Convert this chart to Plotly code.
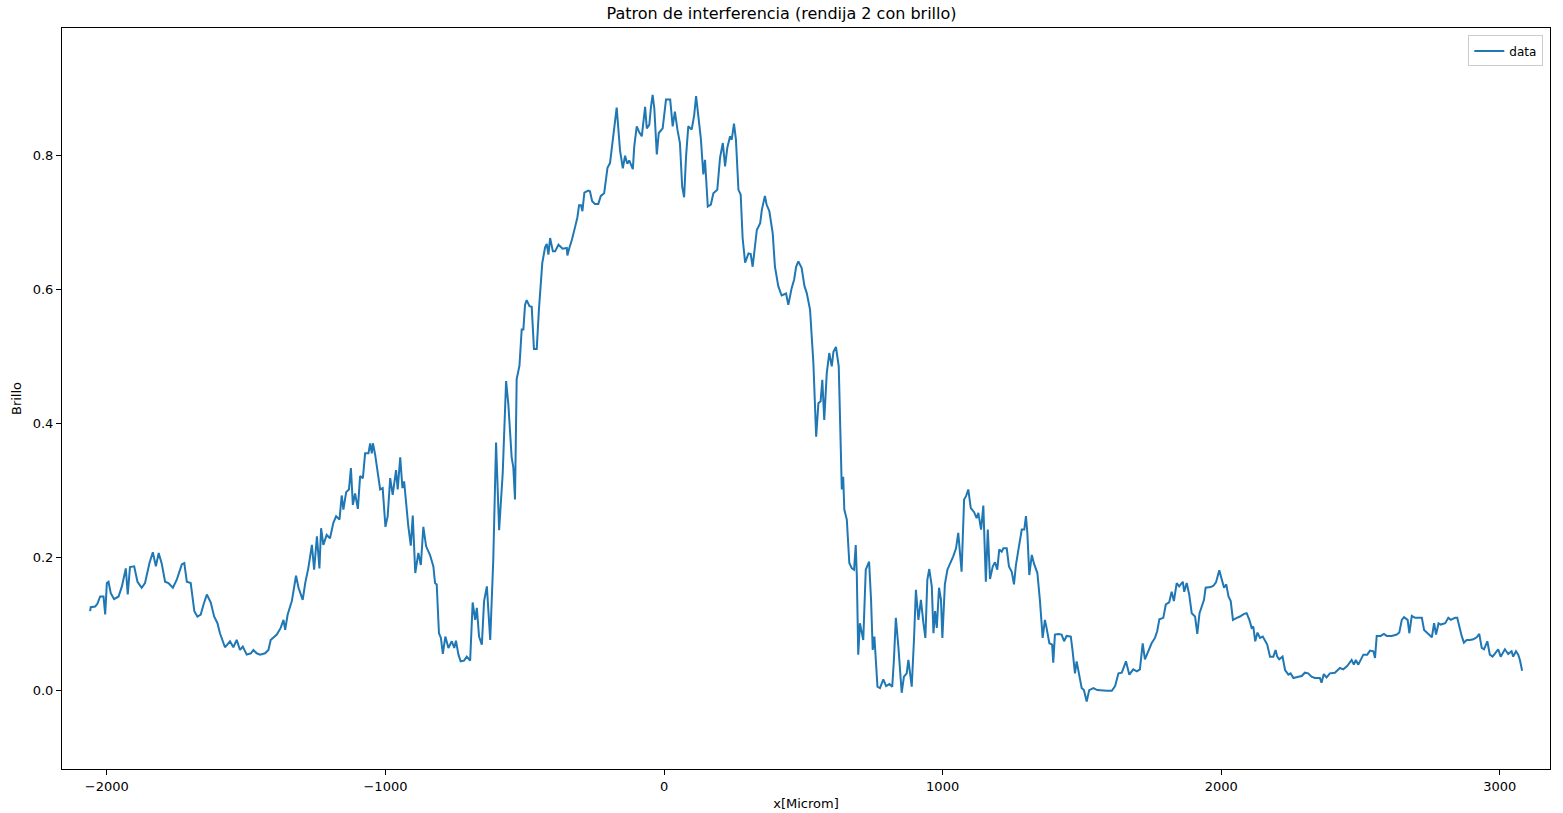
import plotly.graph_objects as go

x_um = [
    -2060, -2058, -2042, -2034, -2024, -2012, -2006, -2000, -1994, -1986, -1974, -1958,
    -1946, -1932, -1925, -1917, -1902, -1890, -1875, -1863, -1847, -1835, -1824, -1814,
    -1803, -1791, -1779, -1763, -1749, -1740, -1731, -1722, -1713, -1699, -1686, -1675,
    -1663, -1653, -1641, -1627, -1615, -1603, -1594, -1576, -1558, -1546, -1534, -1522,
    -1512, -1498, -1483, -1474, -1462, -1450, -1432, -1420, -1412, -1390, -1376, -1366,
    -1360, -1351, -1336, -1321, -1312, -1297, -1288, -1277, -1264, -1256, -1246, -1237,
    -1231, -1223, -1211, -1199, -1187, -1177, -1165,
    -1157, -1151, -1141, -1131, -1124, -1117, -1109, -1099, -1091, -1081, -1073, -1061,
    -1055, -1049, -1045, -1037, -1029, -1019, -1010, -1000, -992, -983, -974, -962,
    -956, -947, -939, -933, -918, -909, -902, -893, -882, -873, -864, -854,
    -840, -828, -822, -816, -808, -801, -794, -785, -774, -762, -753, -747,
    -738, -730, -718, -708, -696, -687, -678, -672, -664, -654, -646, -636,
    -624, -613,
    -603, -592, -579, -567, -559, -547, -541, -535, -529, -519, -511, -505,
    -499, -493, -483, -475, -467, -457, -449, -441, -437, -427, -421, -415,
    -409, -399, -391, -379, -364, -349, -347, -340, -331, -319, -311, -305,
    -298, -293, -286, -272, -266, -258, -248, -236, -227, -215, -203, -194,
    -182, -170, -158, -148, -140, -132, -125, -112, -107, -98, -89, -80,
    -74, -68, -62, -53, -47, -41, -35, -26, -19, -5,
    7, 22, 31, 39, 48, 57, 65, 72, 79, 87, 99, 108,
    115, 123, 132, 141, 147, 157, 168, 177, 191, 201, 211, 219,
    227, 237, 243, 251, 258, 267, 275, 282, 291, 303, 311, 318,
    327, 333, 345, 351, 362, 368, 378, 390, 398, 410, 422, 438,
    446, 458, 467, 474, 482, 494, 504, 512, 524, 536, 546, 554,
    562, 568, 575, 584, 593, 602, 608, 617, 627, 632,
    638, 643, 647, 656, 665, 674, 682, 688, 692, 697, 703, 715,
    724, 736, 743, 749, 755, 766, 775, 787, 797, 809, 819, 825,
    832, 841, 847, 853, 861, 871, 877, 883, 889, 897, 904, 913,
    922, 931, 938, 945, 952, 961, 967, 973, 979, 987, 994, 999,
    1008, 1017, 1029, 1038, 1048, 1056, 1068, 1077, 1084, 1092, 1101, 1113,
    1122, 1128, 1138, 1146, 1155, 1162, 1170, 1180, 1188, 1196, 1203, 1212,
    1218, 1230, 1238, 1248, 1256, 1263, 1272, 1284, 1293, 1299, 1304, 1311,
    1320, 1328, 1340, 1349, 1359, 1367, 1373, 1383,
    1393, 1397, 1403, 1415, 1427, 1436, 1445, 1460, 1466, 1475, 1481, 1491,
    1499, 1507, 1517, 1526, 1541, 1555, 1571, 1589, 1607, 1619, 1631, 1643,
    1658, 1670, 1684, 1697, 1708, 1718, 1726, 1738, 1750, 1762, 1770, 1778,
    1792, 1801, 1813, 1822, 1830, 1840, 1849, 1862, 1867, 1876, 1885, 1894,
    1906, 1914, 1922, 1930, 1938, 1944, 1954, 1962, 1972, 1981, 1993, 2002,
    2010, 2018, 2026, 2034, 2042, 2056, 2067, 2082, 2091, 2101, 2109, 2115,
    2122, 2130, 2139, 2149, 2157, 2165, 2175, 2187, 2195, 2201, 2208,
    2220, 2229, 2241, 2249, 2259, 2277, 2289, 2300, 2312, 2324, 2336, 2354,
    2360, 2368, 2378, 2390, 2408, 2426, 2438, 2452, 2468, 2476, 2483, 2492,
    2500, 2510, 2524, 2534, 2546, 2552, 2558, 2572, 2584, 2594, 2612, 2630,
    2639, 2648, 2656, 2669, 2675, 2684, 2696, 2720, 2728, 2744, 2756, 2764,
    2771, 2780, 2788, 2804, 2815, 2824, 2839, 2847, 2857, 2863, 2871, 2881,
    2893, 2905, 2917, 2926, 2935, 2943, 2955, 2964, 2974, 2982, 2994, 3003,
    3018, 3030, 3042, 3048, 3058, 3066, 3072, 3080,
]

brillo = [
    0.119, 0.125, 0.126, 0.130, 0.141, 0.141, 0.114, 0.161, 0.163, 0.146, 0.137, 0.141,
    0.156, 0.183, 0.144, 0.185, 0.186, 0.163, 0.154, 0.161, 0.191, 0.207, 0.186, 0.206,
    0.190, 0.163, 0.161, 0.154, 0.166, 0.178, 0.189, 0.191, 0.163, 0.161, 0.119, 0.111,
    0.114, 0.129, 0.144, 0.132, 0.111, 0.101, 0.086, 0.065, 0.074, 0.065, 0.076, 0.061,
    0.066, 0.054, 0.056, 0.061, 0.056, 0.054, 0.056, 0.061, 0.076, 0.084, 0.094, 0.106,
    0.091, 0.114, 0.134, 0.172, 0.154, 0.136, 0.161, 0.183, 0.218, 0.181, 0.231, 0.183,
    0.243, 0.218, 0.233, 0.228, 0.251, 0.261, 0.256,
    0.292, 0.271, 0.297, 0.301, 0.333, 0.278, 0.295, 0.272, 0.321, 0.318, 0.355, 0.355,
    0.370, 0.355, 0.370, 0.353, 0.330, 0.301, 0.303, 0.245, 0.261, 0.318, 0.293, 0.330,
    0.301, 0.349, 0.303, 0.313, 0.246, 0.217, 0.262, 0.176, 0.206, 0.188, 0.245, 0.216,
    0.203, 0.186, 0.161, 0.159, 0.086, 0.079, 0.055, 0.081, 0.064, 0.074, 0.064, 0.075,
    0.054, 0.044, 0.045, 0.051, 0.045, 0.132, 0.106, 0.124, 0.081, 0.069, 0.134, 0.156,
    0.076, 0.196,
    0.371, 0.240, 0.326, 0.463, 0.429, 0.349, 0.334, 0.286, 0.466, 0.486, 0.540, 0.540,
    0.577, 0.584, 0.575, 0.574, 0.511, 0.511, 0.571, 0.625, 0.640, 0.663, 0.668, 0.652,
    0.677, 0.657, 0.657, 0.667, 0.661, 0.662, 0.651, 0.662, 0.674, 0.694, 0.708, 0.726,
    0.726, 0.717, 0.745, 0.748, 0.747, 0.732, 0.728, 0.728, 0.740, 0.744, 0.782, 0.789,
    0.828, 0.872, 0.808, 0.781, 0.800, 0.788, 0.793, 0.780, 0.814, 0.844, 0.835, 0.829,
    0.851, 0.873, 0.841, 0.846, 0.873, 0.891, 0.871, 0.802, 0.834, 0.841,
    0.884, 0.884, 0.844, 0.866, 0.839, 0.819, 0.754, 0.738, 0.799, 0.844, 0.839, 0.860,
    0.889, 0.854, 0.826, 0.772, 0.794, 0.724, 0.727, 0.744, 0.749, 0.797, 0.819, 0.784,
    0.812, 0.829, 0.824, 0.848, 0.824, 0.749, 0.742, 0.677, 0.640, 0.654, 0.653, 0.634,
    0.674, 0.689, 0.699, 0.719, 0.740, 0.727, 0.717, 0.684, 0.634, 0.605, 0.591, 0.594,
    0.577, 0.602, 0.615, 0.634, 0.642, 0.632, 0.605, 0.595, 0.570, 0.490, 0.380, 0.430,
    0.433, 0.465, 0.405, 0.475, 0.505, 0.485, 0.507, 0.514, 0.485, 0.390,
    0.301, 0.320, 0.271, 0.256, 0.191, 0.183, 0.181, 0.218, 0.171, 0.054, 0.101, 0.076,
    0.181, 0.193, 0.136, 0.061, 0.081, 0.006, 0.004, 0.017, 0.007, 0.010, 0.006, 0.046,
    0.109, 0.066, 0.031, -0.003, 0.021, 0.026, 0.046, 0.024, 0.006, 0.076, 0.151, 0.106,
    0.136, 0.101, 0.079, 0.166, 0.182, 0.156, 0.086, 0.119, 0.094, 0.154, 0.136, 0.079,
    0.159, 0.181, 0.191, 0.201, 0.213, 0.236, 0.178, 0.286, 0.291, 0.301, 0.273, 0.267,
    0.258, 0.266, 0.241, 0.277, 0.163, 0.241, 0.167, 0.186, 0.192, 0.181, 0.211, 0.208,
    0.213, 0.213, 0.186, 0.178, 0.159, 0.188, 0.211, 0.241, 0.241, 0.261, 0.236, 0.173,
    0.203, 0.190, 0.176, 0.136, 0.079, 0.106, 0.094, 0.071,
    0.069, 0.042, 0.084, 0.085, 0.084, 0.074, 0.082, 0.081, 0.061, 0.026, 0.044, 0.021,
    0.004, 0.001, -0.016, 0.001, 0.004, 0.001, 0.000, 0.000, 0.000, 0.007, 0.026, 0.027,
    0.044, 0.024, 0.032, 0.029, 0.032, 0.071, 0.047, 0.059, 0.071, 0.079, 0.089, 0.107,
    0.109, 0.129, 0.132, 0.148, 0.134, 0.161, 0.156, 0.163, 0.148, 0.161, 0.144, 0.116,
    0.111, 0.085, 0.116, 0.126, 0.136, 0.154, 0.154, 0.155, 0.157, 0.162, 0.180, 0.166,
    0.154, 0.159, 0.141, 0.134, 0.106, 0.109, 0.111, 0.115, 0.116, 0.106, 0.094, 0.096,
    0.074, 0.087, 0.079, 0.081, 0.074, 0.069, 0.051, 0.051, 0.061, 0.051, 0.047,
    0.051, 0.031, 0.024, 0.026, 0.019, 0.021, 0.022, 0.027, 0.026, 0.021, 0.019, 0.019,
    0.012, 0.025, 0.020, 0.026, 0.027, 0.034, 0.032, 0.037, 0.046, 0.039, 0.046, 0.039,
    0.046, 0.054, 0.054, 0.060, 0.059, 0.049, 0.082, 0.082, 0.085, 0.082, 0.082, 0.084,
    0.087, 0.106, 0.110, 0.106, 0.086, 0.112, 0.109, 0.109, 0.091, 0.084, 0.080, 0.101,
    0.084, 0.101, 0.099, 0.101, 0.109, 0.106, 0.109, 0.109, 0.091, 0.082, 0.072, 0.076,
    0.076, 0.077, 0.080, 0.085, 0.064, 0.062, 0.074, 0.054, 0.051, 0.056, 0.062, 0.051,
    0.062, 0.055, 0.059, 0.051, 0.059, 0.054, 0.046, 0.030,
]

x_ticks = [-2000, -1000, 0, 1000, 2000, 3000]
y_ticks = [0.0, 0.2, 0.4, 0.6, 0.8]

fig = go.Figure()
fig.add_trace(go.Scatter(x=x_um, y=brillo, mode="lines", name="data",
                         line=dict(color="#1f77b4", width=2)))

eje = dict(showline=True, linecolor="black", linewidth=1, mirror=True,
           ticks="outside", ticklen=5, tickcolor="black", showgrid=False,
           zeroline=False, automargin=False, tickfont=dict(size=13, color="black"))

fig.update_xaxes(eje, range=[-2161, 3180], tickvals=x_ticks,
                 title=dict(text="x[Microm]", font=dict(size=13, color="black"), standoff=6))
fig.update_yaxes(eje, range=[-0.117, 0.991], tickvals=y_ticks, tickformat=".1f",
                 title=dict(text="Brillo", font=dict(size=13, color="black"), standoff=8))

fig.update_layout(
    width=1563, height=813,
    margin=dict(l=62, r=13, t=28, b=44, autoexpand=False),
    paper_bgcolor="white", plot_bgcolor="white",
    font=dict(family="DejaVu Sans", color="black"),
    title=dict(text="Patron de interferencia (rendija 2 con brillo)", x=0.5, xanchor="center",
               y=0.984, yanchor="middle", font=dict(size=16, color="black")),
    showlegend=True,
    legend=dict(x=0.9955, y=0.99, xanchor="right", yanchor="top", bgcolor="white",
                bordercolor="#cccccc", borderwidth=1, font=dict(size=12, color="black")),
)

# quitar el margen del body para que la figura empiece en la esquina
fig.write_html("out.html", config={"displayModeBar": False},
               post_script="document.body.style.margin = '0px';")
